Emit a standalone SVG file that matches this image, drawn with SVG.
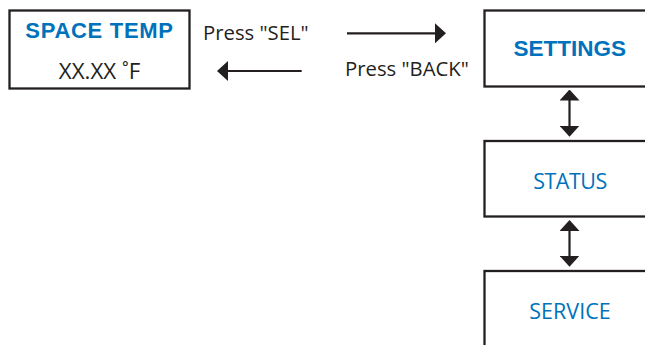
<svg xmlns="http://www.w3.org/2000/svg" width="645" height="345" viewBox="0 0 645 345">
<style>
.box{fill:#ffffff;stroke:#231f20;stroke-width:2.3}
.hd{font-family:"Liberation Sans",Arial,sans-serif;font-weight:bold;fill:#0072bc;font-size:22.5px;text-anchor:middle}
.nm{font-family:"Open Sans","Noto Sans",sans-serif;fill:#0072bc;font-size:21.5px;text-anchor:middle}
.lbl{font-family:"Open Sans","Noto Sans",sans-serif;fill:#231f20;font-size:20.3px}
.val{font-family:"Open Sans","Noto Sans",sans-serif;fill:#231f20;font-size:22.3px;text-anchor:middle}
.conn{stroke:#231f20;stroke-width:2.2;fill:none}
</style>
<defs>
<marker id="ah" markerUnits="userSpaceOnUse" markerWidth="11" markerHeight="20" viewBox="0 0 11 20" refX="5" refY="10" orient="auto-start-reverse">
<path d="M0,0 L11,10 L0,20 z" fill="#231f20"/>
</marker>
</defs>
<rect width="645" height="345" fill="#ffffff"/>
<g id="space-temp">
<rect class="box" x="9.5" y="10.5" width="180" height="78"/>
<text class="hd" x="99.5" y="38" style="font-size:22px;letter-spacing:0.7px">SPACE TEMP</text>
<text class="val" x="99.5" y="79">XX.XX ˚F</text>
</g>
<g id="settings">
<rect class="box" x="484.5" y="10.5" width="180" height="76"/>
<text class="hd" x="569.7" y="56">SETTINGS</text>
</g>
<g id="status">
<rect class="box" x="484.5" y="141" width="180" height="75.5"/>
<text class="nm" x="570" y="188.5" style="letter-spacing:-0.5px">STATUS</text>
</g>
<g id="service">
<rect class="box" x="484.5" y="271" width="180" height="100"/>
<text class="nm" x="570" y="319">SERVICE</text>
</g>
<g id="connectors">
<line class="conn" x1="347" y1="33.3" x2="440" y2="33.3" marker-end="url(#ah)"/>
<line class="conn" x1="301.7" y1="71" x2="223" y2="71" marker-end="url(#ah)"/>
<line class="conn" x1="569.5" y1="95.5" x2="569.5" y2="130.7" marker-start="url(#ah)" marker-end="url(#ah)"/>
<line class="conn" x1="569.5" y1="226" x2="569.5" y2="260.7" marker-start="url(#ah)" marker-end="url(#ah)"/>
<text class="lbl" x="203" y="39.5">Press "SEL"</text>
<text class="lbl" x="345" y="76">Press "BACK"</text>
</g>
</svg>
